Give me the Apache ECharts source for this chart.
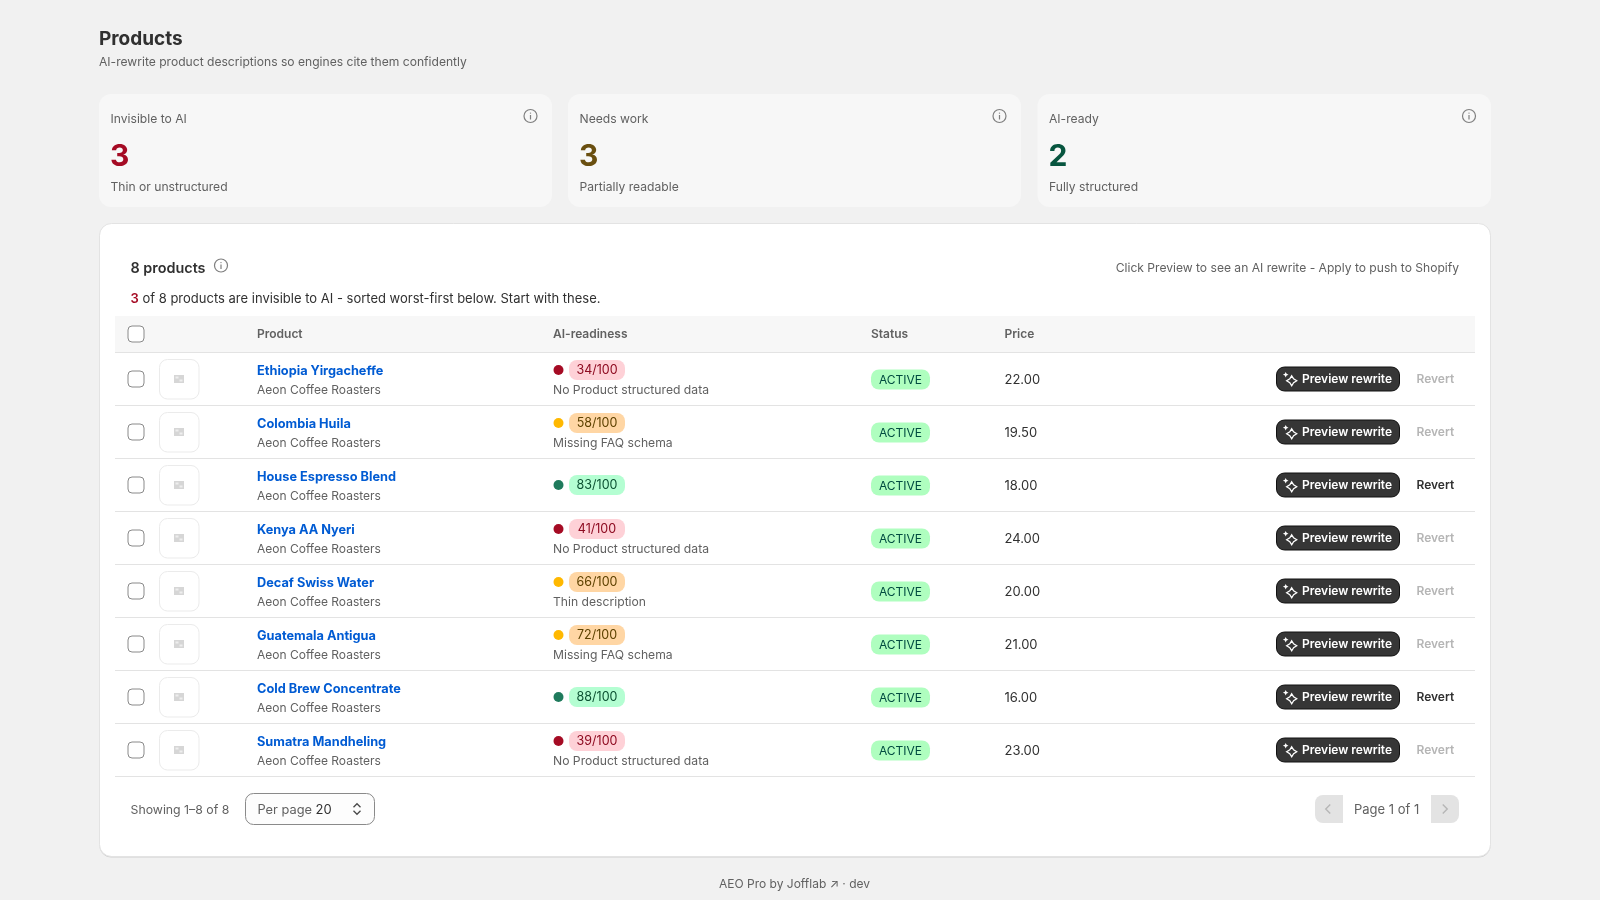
<!DOCTYPE html>
<html>
<head>
<meta charset="utf-8">
<title>Products</title>
<script src="https://cdn.jsdelivr.net/npm/echarts@6/dist/echarts.min.js"></script>
<style>
  html, body { margin: 0; padding: 0; background: #f1f1f1; }
  #chart { width: 1600px; height: 900px; }
</style>
</head>
<body>
<div id="chart"></div>
<script>
// Table content
const products = ['Ethiopia Yirgacheffe', 'Colombia Huila', 'House Espresso Blend', 'Kenya AA Nyeri', 'Decaf Swiss Water', 'Guatemala Antigua', 'Cold Brew Concentrate', 'Sumatra Mandheling'];
const vendors = ['Aeon Coffee Roasters', 'Aeon Coffee Roasters', 'Aeon Coffee Roasters', 'Aeon Coffee Roasters', 'Aeon Coffee Roasters', 'Aeon Coffee Roasters', 'Aeon Coffee Roasters', 'Aeon Coffee Roasters'];
const scores = [34, 58, 83, 41, 66, 72, 88, 39];
const reasons = ['No Product structured data', 'Missing FAQ schema', '', 'No Product structured data', 'Thin description', 'Missing FAQ schema', '', 'No Product structured data'];
const statuses = ['ACTIVE', 'ACTIVE', 'ACTIVE', 'ACTIVE', 'ACTIVE', 'ACTIVE', 'ACTIVE', 'ACTIVE'];
const prices = ['22.00', '19.50', '18.00', '24.00', '20.00', '21.00', '16.00', '23.00'];
const revertEnabled = [false, false, true, false, false, false, true, false];

// Summary cards
const kpiLabels = ['Invisible to AI', 'Needs work', 'AI-ready'];
const kpiValues = [3, 3, 2];
const kpiNotes = ['Thin or unstructured', 'Partially readable', 'Fully structured'];
const kpiColors = ['#a50b24', '#6a4f10', '#07553f'];
const kpiLefts = [99, 568, 1037.5];
const kpiWidths = [453, 453, 453.5];

// Column headers
const headerLabels = ['Product', 'AI-readiness', 'Status', 'Price'];
const headerLefts = [257, 553, 871, 1004.5];

const FONT = 'Inter, "Noto Sans", sans-serif';

const tierColors = score => {
    if (score < 50) return { dot: '#a50b24', pill: '#fed1d7', text: '#8e0b21' };
    if (score < 80) return { dot: '#ffb800', pill: '#ffd6a4', text: '#5e4200' };
    return { dot: '#1f7a5c', pill: '#b4fed2', text: '#0c5132' };
};

const label = (x, y, text, size, color, weight, align) => ({
    type: 'text',
    x, y,
    silent: true,
    style: {
        text,
        fill: color,
        font: `${weight || 400} ${size}px ${FONT}`,
        align: align || 'left',
        verticalAlign: 'middle'
    }
});

const box = (x, y, width, height, r, fill, stroke) => ({
    type: 'rect',
    silent: true,
    shape: { x, y, width, height, r },
    style: { fill, stroke: stroke || null, lineWidth: stroke ? 1 : 0 }
});

const infoIcon = (cx, cy) => [
    { type: 'circle', silent: true, shape: { cx, cy, r: 6.5 }, style: { fill: 'none', stroke: '#7f7f7f', lineWidth: 1.2 } },
    box(cx - 0.6, cy - 1, 1.2, 4.5, 0, '#7f7f7f'),
    box(cx - 0.7, cy - 3.6, 1.4, 1.4, 0.7, '#7f7f7f')
];

// dir: 1 points right/down, -1 points left/up
const chevronH = (cx, cy, dir, size, color) => ({
    type: 'polyline',
    silent: true,
    shape: { points: [[cx - dir * size / 2, cy - size], [cx + dir * size / 2, cy], [cx - dir * size / 2, cy + size]] },
    style: { fill: 'none', stroke: color, lineWidth: 1.4 }
});
const chevronV = (cx, cy, dir, size, color) => ({
    type: 'polyline',
    silent: true,
    shape: { points: [[cx - size, cy - dir * size / 2], [cx, cy + dir * size / 2], [cx + size, cy - dir * size / 2]] },
    style: { fill: 'none', stroke: color, lineWidth: 1.3 }
});

// four point sparkle
const sparkle = (cx, cy, outer, inner, style) => ({
    type: 'polygon',
    silent: true,
    shape: { points: [
        [cx, cy - outer], [cx + inner, cy - inner], [cx + outer, cy], [cx + inner, cy + inner],
        [cx, cy + outer], [cx - inner, cy + inner], [cx - outer, cy], [cx - inner, cy - inner]
    ] },
    style
});

// Page chrome: everything that is not a table row
const chrome = [];
chrome.push(label(99, 39, 'Products', 19, '#303030', 650));
chrome.push(label(99, 62, 'AI-rewrite product descriptions so engines cite them confidently', 12.1, '#616161'));

kpiLabels.forEach((name, i) => {
    const x = kpiLefts[i];
    chrome.push(box(x, 94, kpiWidths[i], 113, 12, '#f7f7f7'));
    chrome.push(label(x + 11.5, 119.5, name, 12.13, '#616161'));
    chrome.push(label(x + 11, 156.5, String(kpiValues[i]), 30, kpiColors[i], 700));
    chrome.push(label(x + 11.5, 187.5, kpiNotes[i], 12.13, '#616161'));
    chrome.push(...infoIcon(x + 431.5, 116));
});

// Main card with a thin darker lower edge
chrome.push(box(99.5, 224, 1391, 633.5, 12, '#cfcfcf'));
chrome.push(box(99.5, 223.5, 1391, 633, 12, '#ffffff', '#e3e3e3'));
chrome.push(label(130.5, 269, '8 products', 14.4, '#303030', 600));
chrome.push(...infoIcon(221, 265.5));
chrome.push(label(1459, 268, 'Click Preview to see an AI rewrite - Apply to push to Shopify', 12.08, '#616161', 400, 'right'));
chrome.push({
    type: 'text',
    x: 130.5, y: 299.5,
    silent: true,
    style: {
        text: '{r|3} of 8 products are invisible to AI - sorted worst-first below. Start with these.',
        font: `400 13px ${FONT}`,
        fill: '#303030',
        verticalAlign: 'middle',
        rich: { r: { fill: '#a50b24', font: `600 13px ${FONT}` } }
    }
});

// Table header band
chrome.push(box(115, 316, 1360, 36, 0, '#f7f7f7'));
chrome.push(box(128, 326, 16, 16, 4, '#ffffff', '#8a8a8a'));
headerLabels.forEach((name, i) => {
    chrome.push(label(headerLefts[i], 334, name, 12, '#616161', 600));
});

// Pagination row
chrome.push(label(130.5, 810, 'Showing 1–8 of 8', 12.3, '#616161'));
chrome.push(box(245.5, 793.5, 129, 31, 8, '#fdfdfd', '#8a8a8a'));
chrome.push({
    type: 'text',
    x: 257.5, y: 810,
    silent: true,
    style: {
        text: 'Per page {v|20}',
        font: `400 12.8px ${FONT}`,
        fill: '#616161',
        verticalAlign: 'middle',
        rich: { v: { fill: '#303030', font: `400 13px ${FONT}` } }
    }
});
chrome.push(chevronV(357, 805.5, -1, 3.5, '#4a4a4a'));
chrome.push(chevronV(357, 812.5, 1, 3.5, '#4a4a4a'));

chrome.push({ type: 'rect', silent: true, shape: { x: 1315, y: 795, width: 28, height: 28, r: [8, 0, 0, 8] }, style: { fill: '#e3e3e3' } });
chrome.push({ type: 'rect', silent: true, shape: { x: 1431, y: 795, width: 28, height: 28, r: [0, 8, 8, 0] }, style: { fill: '#e3e3e3' } });
chrome.push(chevronH(1328, 809, -1, 4.5, '#b5b5b5'));
chrome.push(chevronH(1445, 809, 1, 4.5, '#b5b5b5'));
chrome.push(label(1354, 810.5, 'Page 1 of 1', 13, '#616161'));

chrome.push(label(794.5, 884, 'AEO Pro by Jofflab ↗ · dev', 12, '#616161', 400, 'center'));

// One table row, placed through the category axis
function renderRow(params, api) {
    const i = api.value(1);
    const cy = api.coord([0, i])[1];
    const score = scores[i];
    const tier = tierColors(score);
    const hasReason = reasons[i] !== '';
    const pillY = hasReason ? cy - 8.5 : cy + 0.5;
    const out = [];

    // checkbox + image placeholder
    out.push(box(128, cy - 7.5, 16, 16, 4, '#ffffff', '#8a8a8a'));
    out.push(box(159.5, cy - 19, 39.5, 39.5, 8, '#ffffff', '#ebebeb'));
    out.push(box(174, cy - 3.5, 10, 8, 0, '#d6d6d6'));
    out.push(box(175.5, cy - 2, 3, 2, 0, '#eeeeee'));
    out.push(box(179.5, cy + 1, 3, 2, 0, '#eeeeee'));

    // product
    out.push(label(257, cy - 7.5, products[i], 12.75, '#005bd3', 650));
    out.push(label(257, cy + 11.5, vendors[i], 12, '#616161'));

    // score
    out.push({ type: 'circle', silent: true, shape: { cx: 558.5, cy: pillY, r: 5 }, style: { fill: tier.dot } });
    out.push(box(569, pillY - 10, 56, 20, 8, tier.pill));
    out.push(label(597, pillY + 0.5, score + '/100', 12.5, tier.text, 400, 'center'));
    if (hasReason) out.push(label(553, cy + 11.5, reasons[i], 12.17, '#616161'));

    // status + price
    out.push(box(871, cy - 9, 59, 20, 8, '#affebf'));
    out.push(label(900.5, cy + 1.5, statuses[i], 12, '#014b40', 400, 'center'));
    out.push(label(1004.5, cy + 2, prices[i], 13, '#303030'));

    // actions
    out.push(box(1276.5, cy - 11.5, 123, 24, 8, '#363636', '#111111'));
    out.push(sparkle(1291.7, cy + 2.3, 5, 1.9, { fill: 'none', stroke: '#ffffff', lineWidth: 1.3 }));
    out.push(sparkle(1285.7, cy - 3.8, 2.8, 0.9, { fill: '#ffffff' }));
    out.push(label(1302, cy + 0.5, 'Preview rewrite', 12, '#ffffff', 600));
    out.push(label(1416.5, cy + 0.5, 'Revert', 12, revertEnabled[i] ? '#303030' : '#b5b5b5', 600));

    return { type: 'group', children: out };
}

const chart = echarts.init(document.getElementById('chart'));
chart.setOption({
    animation: false,
    backgroundColor: '#f1f1f1',
    graphic: { elements: chrome, z: 1 },
    grid: { left: 115, right: 125, top: 352, height: 424 },
    xAxis: { type: 'value', min: 115, max: 1475, show: false },
    yAxis: {
        type: 'category',
        inverse: true,
        data: products,
        axisLine: { show: false },
        axisTick: { show: false },
        axisLabel: { show: false },
        splitLine: { show: true, lineStyle: { color: '#e3e3e3', width: 1 } },
        z: 5
    },
    tooltip: { show: false },
    series: [{
        type: 'custom',
        silent: true,
        z: 10,
        clip: false,
        renderItem: renderRow,
        encode: { x: 0, y: 1 },
        data: products.map((name, i) => [115, i])
    }]
});
</script>
</body>
</html>
